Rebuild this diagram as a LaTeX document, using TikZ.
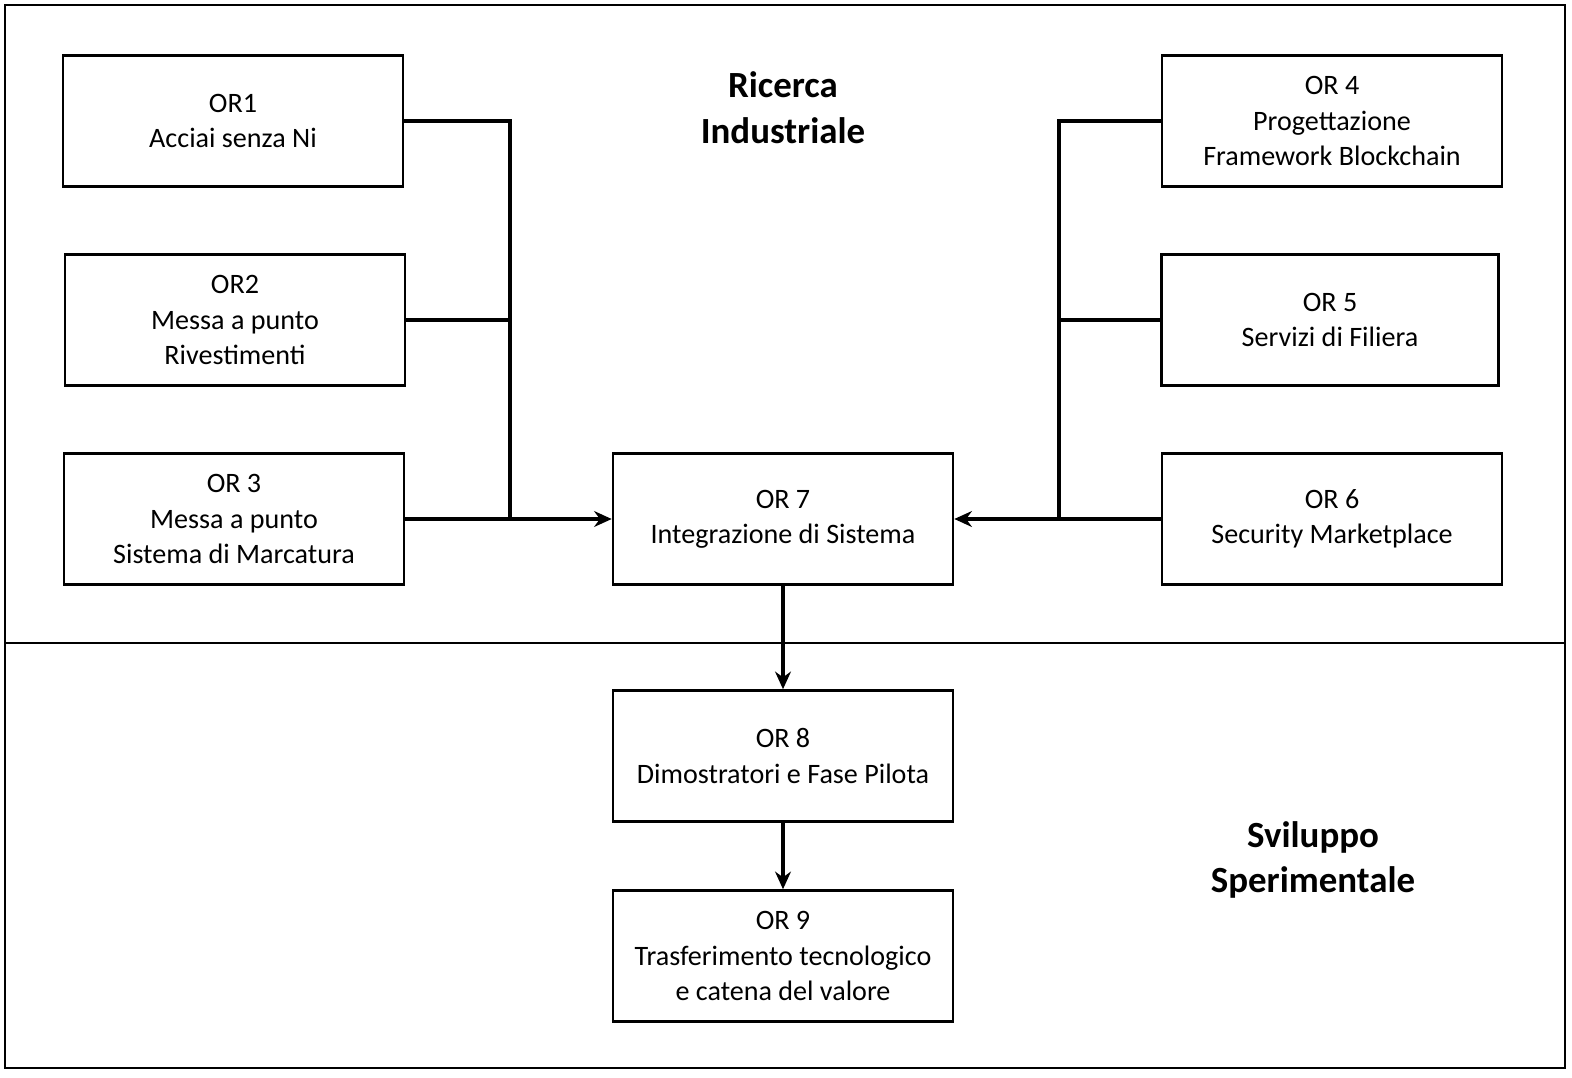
\documentclass[tikz,border=0pt]{standalone}
\usepackage{fontspec}
\setmainfont{Carlito}
\usetikzlibrary{arrows.meta}
\begin{document}
\begin{tikzpicture}[x=0.02cm,y=-0.02cm,
  orbox/.style={draw,line width=1.5pt,minimum width=6.8cm,minimum height=2.62cm,
    align=center,font=\fontsize{16}{20}\selectfont},
  title/.style={align=center,font=\fontsize{21}{26}\selectfont\bfseries},
  link/.style={line width=2.2pt},
  flow/.style={link,-{Stealth[length=10pt,width=9pt]}}]

\useasboundingbox (0,0) rectangle (1572,1078);

% The frame
\draw[line width=1.5pt] (5,5) rectangle (1565,1068);
\draw[line width=1.5pt] (5,643) -- (1565,643);

% The titles
\node[title] (ri) at (783,108) {Ricerca\\Industriale};
\node[title] (ss) at (1313,860) {Sviluppo\\Sperimentale};

% The boxes
\node[orbox] (or1) at (233,121) {OR1\\Acciai senza Ni};
\node[orbox] (or2) at (235,320) {OR2\\Messa a punto\\Rivestimenti};
\node[orbox] (or3) at (234,519) {OR 3\\Messa a punto\\Sistema di Marcatura};
\node[orbox] (or4) at (1332,121) {OR 4\\Progettazione\\Framework Blockchain};
\node[orbox,minimum width=6.74cm] (or5) at (1330,320) {OR 5\\Servizi di Filiera};
\node[orbox] (or6) at (1332,519) {OR 6\\Security Marketplace};
\node[orbox] (or7) at (783,519) {OR 7\\Integrazione di Sistema};
\node[orbox] (or8) at (783,756) {OR 8\\Dimostratori e Fase Pilota};
\node[orbox] (or9) at (783,956) {OR 9\\Trasferimento tecnologico\\e catena del valore};

% The buses
\coordinate (lb) at (510,519);
\coordinate (rb) at (1059,519);
\draw[link] (or1.east) -| (lb);
\draw[link] (or2.east) -- (or2.east -| lb);
\draw[link] (or4.west) -| (rb);
\draw[link] (or5.west) -- (or5.west -| rb);

% The arrows
\draw[flow] (or3) -- (or7);
\draw[flow] (or6) -- (or7);
\draw[flow] (or7) -- (or8);
\draw[flow] (or8) -- (or9);

\end{tikzpicture}
\end{document}
